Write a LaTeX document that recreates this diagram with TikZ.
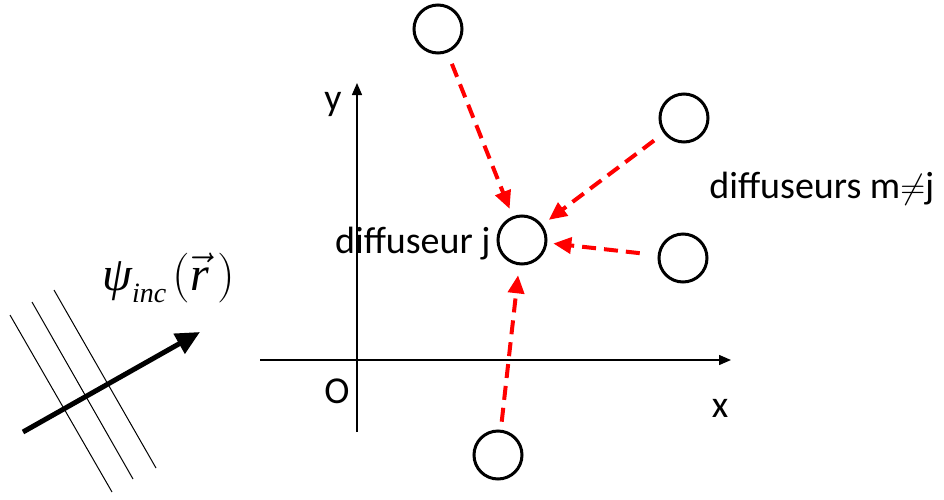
\documentclass[tikz,border=0pt]{standalone}
\usepackage{fontspec}
\setmainfont{Carlito}
\newfontfamily\serifpsi{Liberation Serif}
\usetikzlibrary{arrows.meta}
\begin{document}
\begin{tikzpicture}[x=0.5pt,y=-0.5pt,
  scat/.style={circle,draw,line width=1.5pt,minimum size=24pt,inner sep=0pt},
  redarrow/.style={draw=red,line width=2pt,dash pattern=on 7pt off 4pt,
    -{Triangle[length=9pt,width=8pt]},shorten <=6pt,shorten >=4pt},
  lab/.style={font=\fontsize{19}{23}\selectfont,inner sep=0pt},
  axisline/.style={line width=0.7pt,-{Triangle[length=6pt,width=5pt]}},
  wave/.style={line width=0.5pt},
  bigarrow/.style={line width=2.5pt,-{Triangle[length=12pt,width=11pt]}}]
\useasboundingbox (0,0) rectangle (944,499);

% axes
\coordinate (xs) at (260,360);
\coordinate (xe) at (731,360);
\coordinate (ys) at (357,432);
\coordinate (ye) at (357,83);
\draw[axisline] (xs) -- (xe);
\draw[axisline] (ys) -- (ye);
\node[lab,anchor=base] (ylab) at (333,110) {y};
\node[lab,anchor=base] (olab) at (337,403) {O};
\node[lab,anchor=base] (xlab) at (720,417) {x};

% scatterers
\node[scat] (j) at (522,240) {};
\node[scat] (top) at (438,29) {};
\node[scat] (ur) at (684,118) {};
\node[scat] (r) at (683,258) {};
\node[scat] (bot) at (498,455) {};

\node[lab,anchor=base east] (jlab) at (491,253) {diffuseur j};
\node[lab,anchor=base west] (mlab) at (709,198) {diffuseurs m$\neq$j};

\draw[redarrow] (top) -- (j);
\draw[redarrow] (ur) -- (j);
\draw[redarrow,shorten <=9pt,shorten >=3pt] (r) -- (j);
\draw[redarrow,shorten <=4pt,shorten >=5pt] (bot) -- (j);

% incident plane wave
\coordinate (w1a) at (10,315);  \coordinate (w1b) at (112,492);
\coordinate (w2a) at (32,302);  \coordinate (w2b) at (133,479);
\coordinate (w3a) at (54,290);  \coordinate (w3b) at (156,468);
\draw[wave] (w1a) -- (w1b);
\draw[wave] (w2a) -- (w2b);
\draw[wave] (w3a) -- (w3b);
\coordinate (ka) at (23,432);
\coordinate (kb) at (200,332);
\draw[bigarrow] (ka) -- (kb);
\node[inner sep=0pt,anchor=base west,font=\fontsize{24}{28}\selectfont] (psi) at (102,290)
  {{\serifpsi\itshape ψ}\raisebox{-6pt}{\fontsize{14}{14}\serifpsi\itshape inc}\hspace{3pt}$\Bigl(\vec{\hbox{\serifpsi\itshape r}}\,\Bigr)$};
\end{tikzpicture}
\end{document}
